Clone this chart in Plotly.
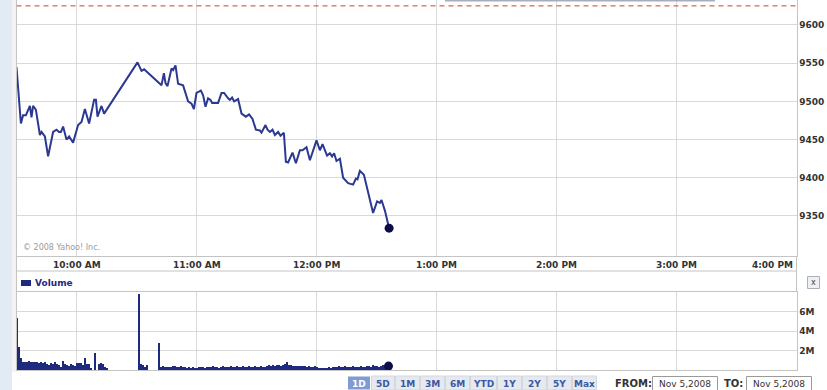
import plotly.graph_objects as go
import pandas as pd

W, H = 827, 390

# ---------------- data ----------------
price_minutes = [0, 2.2, 3.3, 4.7, 6.7, 7.5, 8.3, 9.7, 11.7, 12.5, 14.2, 15.8, 18.3, 20, 21.3, 22.2,
                 23.3, 25, 26.3, 28.3, 30.8, 32.5, 34.2, 36.3, 38.8, 39.7, 40.5, 42.5, 43.8,
                 60.5, 62.5, 63.8, 72.5, 73.7, 74.5, 75.5, 77.5, 78.3, 79.5, 80.8, 83.3, 85.8,
                 87.5, 88.7, 90, 92.2, 93.3, 94.5, 95.8, 97, 97.8, 100.8, 102.5, 103.8, 105.8,
                 106.7, 107.8, 108.8, 110.8, 112.5, 114.7, 116.3, 118, 119.7, 121.7, 122.5, 124.5,
                 125.5, 126.7, 128, 129.2, 130.8, 132, 133.7, 134.7, 135.8, 138, 139.7, 141.7, 143,
                 145, 146.7, 150, 151.7, 153, 155.3, 156.7, 157.8, 158.8, 160, 161.7, 163.3, 165.8,
                 168.3, 169.7, 170.5, 171.7, 173.7, 178.3, 180.3, 181.7, 182.5, 184.2, 186.3]
price_values = [9545, 9471, 9482, 9482, 9494, 9479, 9494, 9489, 9456, 9460, 9454, 9428, 9460, 9463,
                9460, 9460, 9467, 9450, 9454, 9446, 9469, 9473, 9490, 9471, 9502, 9502, 9480, 9494,
                9484, 9551, 9540, 9542, 9521, 9537, 9524, 9520, 9543, 9541, 9547, 9523, 9521, 9500,
                9497, 9490, 9511, 9514, 9508, 9493, 9504, 9502, 9498, 9498, 9511, 9511, 9504, 9502,
                9505, 9500, 9503, 9484, 9480, 9483, 9477, 9463, 9462, 9459, 9469, 9463, 9460, 9463,
                9456, 9460, 9455, 9459, 9421, 9420, 9433, 9419, 9436, 9436, 9440, 9423, 9449, 9436,
                9444, 9429, 9432, 9428, 9432, 9422, 9425, 9400, 9393, 9391, 9399, 9398, 9409, 9404,
                9354, 9369, 9367, 9371, 9357, 9334]
prev_close = 9625

# volume in millions, one bar per minute
vol_minutes_a = list(range(0, 46))
vol_values_a = [5.3, 2.4, 1.2, 0.85, 0.79, 0.85, 0.92, 0.85, 0.79, 0.85, 0.79, 0.68, 0.79, 0.68,
                0.85, 0.62, 0.51, 0.68, 0.62, 0.79, 0.65, 0.51, 0.34, 0.92, 0.62, 0.51, 0.45, 0.58,
                0.51, 0.45, 0.75, 0.68, 0.75, 0.51, 1.27, 0.62, 0.62, 0.17, 0.0, 1.78, 0.0, 0.62,
                0.75, 0.62, 0.34, 0.17]
vol_minutes_b = list(range(61, 187))
vol_values_b = [7.8, 0.6, 0.55, 0.3, 0.5, 0, 0, 0, 0, 0, 2.8,
                0.35, 0.45, 0.3, 0.35, 0.3, 0.3, 0.45, 0.4, 0.35, 0.3, 0.45, 0.35, 0.3, 0.25, 0.3, 0.2, 0.3, 0.25,
                0.25, 0.3, 0.35, 0.3, 0.25, 0.35, 0.3, 0.3, 0.4, 0.3, 0.35, 0.25, 0.3, 0.4, 0.3, 0.35, 0.3, 0.4, 0.3, 0.35,
                0.4, 0.3, 0.35, 0.4, 0.3, 0.35, 0.45, 0.3, 0.35, 0.4, 0.3, 0.35, 0.45, 0.35, 0.3, 0.45, 0.5, 0.4, 0.5, 0.45,
                0.55, 0.5, 0.45, 0.5, 0.6, 0.8, 0.55, 0.5, 0.45, 0.4, 0.45, 0.4, 0.45, 0.4, 0.45, 0.35, 0.4, 0.3, 0.35, 0.4,
                0.3, 0.25, 0.2, 0.2, 0.25, 0.2, 0.3, 0.25, 0.3, 0.35, 0.3, 0.45, 0.35, 0.3, 0.4, 0.3, 0.35, 0.3, 0.4, 0.35,
                0.3, 0.35, 0.4, 0.3, 0.35, 0.45, 0.4, 0.35, 0.5, 0.45, 0.4, 0.35, 0.45, 0.5, 0.4, 0.45, 0.4]

hour_ticks = ["10:00", "11:00", "12:00", "13:00", "14:00", "15:00", "16:00"]
hour_labels = ["10:00 AM", "11:00 AM", "12:00 PM", "1:00 PM", "2:00 PM", "3:00 PM", "4:00 PM"]
price_ticks = [9350, 9400, 9450, 9500, 9550, 9600]
vol_ticks = [2, 4, 6]
vol_tick_labels = ["2M", "4M", "6M"]
range_buttons = ["1D", "5D", "1M", "3M", "6M", "YTD", "1Y", "2Y", "5Y", "Max"]
date_from = "Nov 5,2008"
date_to = "Nov 5,2008"

# ---------------- helpers ----------------
DAY = "2008-11-05 "
base = pd.Timestamp(DAY + "09:30")


def t(m):
    return (base + pd.Timedelta(minutes=m)).strftime("%Y-%m-%d %H:%M:%S")


def px(x):
    return x / W


def py(y):
    return 1 - y / H


price_t = [t(m) for m in price_minutes]
vol_t = [t(m) for m in vol_minutes_a + vol_minutes_b]
vol_v = vol_values_a + vol_values_b

GRID = "#d9d9d9"
BORDER = "#c4c4c4"
LINE = "#2b3990"
NAVY = "#1f2a7e"
FONT = "DejaVu Sans"

x0, x1 = 16.5, 796.5
X_RANGE = [DAY + "09:30", DAY + "16:00"]

fig = go.Figure()
fig.add_trace(go.Scatter(x=price_t, y=price_values, mode="lines",
                         line=dict(color=LINE, width=2), xaxis="x", yaxis="y",
                         hoverinfo="skip"))
fig.add_trace(go.Scatter(x=[price_t[-1]], y=[price_values[-1]], mode="markers",
                         marker=dict(color="#0c0c48", size=9), xaxis="x", yaxis="y"))
fig.add_trace(go.Bar(x=vol_t, y=vol_v, marker=dict(color=NAVY, line=dict(width=0)),
                     width=27000, xaxis="x2", yaxis="y2"))
fig.add_trace(go.Scatter(x=[vol_t[-1]], y=[vol_v[-1]], mode="markers",
                         marker=dict(color="#0c0c48", size=9), xaxis="x2", yaxis="y2"))

common_x = dict(type="date", range=X_RANGE, domain=[px(x0), px(x1)],
                tickvals=[DAY + h for h in hour_ticks], showticklabels=False,
                showgrid=True, gridcolor=GRID, gridwidth=1, zeroline=False,
                showline=True, linecolor=BORDER, mirror=True, ticks="")
tickfont = dict(family=FONT, size=9, color="#333333", weight="bold")

fig.update_layout(
    width=W, height=H, autosize=False,
    margin=dict(l=0, r=0, t=0, b=0),
    paper_bgcolor="white", plot_bgcolor="white",
    showlegend=False, bargap=0,
    xaxis=dict(anchor="y", **common_x),
    yaxis=dict(domain=[py(256), py(0)], range=[9297.6, 9632.7], side="right",
               tickvals=price_ticks, tickfont=tickfont, showgrid=True, gridcolor=GRID,
               zeroline=False, showline=True, linecolor=BORDER, mirror=True, ticks=""),
    xaxis2=dict(anchor="y2", matches="x", **common_x),
    yaxis2=dict(domain=[py(370), py(292)], range=[0, 8], side="right",
                tickvals=vol_ticks, ticktext=vol_tick_labels, tickfont=tickfont,
                showgrid=True, gridcolor=GRID, zeroline=False, showline=True,
                linecolor=BORDER, mirror=True, ticks=""),
)

shapes = []
annotations = []

# left light strip
shapes.append(dict(type="rect", xref="paper", yref="paper", x0=0, x1=px(12), y0=0, y1=1,
                   fillcolor="#e2eaf6", line=dict(width=0), layer="below"))
shapes.append(dict(type="rect", xref="paper", yref="paper", x0=px(12), x1=px(16), y0=py(372), y1=1,
                   fillcolor="#f3f3f3", line=dict(width=0), layer="below"))
# top gray scroller line
shapes.append(dict(type="rect", xref="paper", yref="paper", x0=px(445), x1=px(715), y0=py(1.5), y1=1,
                   fillcolor="#a7adba", line=dict(width=0)))
# previous close dashed line
shapes.append(dict(type="line", xref="x", yref="y", x0=X_RANGE[0], x1=X_RANGE[1],
                   y0=prev_close, y1=prev_close,
                   line=dict(color="#c8461e", width=1, dash="5px,4px")))
# label band and legend band borders
for yy in (271,):
    shapes.append(dict(type="line", xref="paper", yref="paper", x0=px(x0), x1=px(x1),
                       y0=py(yy), y1=py(yy), line=dict(color=BORDER, width=1)))
for xx in (x0, x1):
    shapes.append(dict(type="line", xref="paper", yref="paper", x0=px(xx), x1=px(xx),
                       y0=py(292), y1=py(256), line=dict(color=BORDER, width=1)))

# x labels
for tv, lab in zip(hour_ticks, hour_labels):
    last = tv == hour_ticks[-1]
    annotations.append(dict(x=DAY + tv, y=py(264.5), xref="x", yref="paper", text=lab,
                            showarrow=False, xanchor="right" if last else "center",
                            yanchor="middle", xshift=-2 if last else 0,
                            font=dict(family=FONT, size=9, color="#333333", weight="bold")))

# copyright
annotations.append(dict(x=px(21), y=py(247), xref="paper", yref="paper",
                        text="© 2008 Yahoo! Inc.", showarrow=False, xanchor="left",
                        yanchor="middle", font=dict(family=FONT, size=8, color="#9a9a9a")))

# volume legend
shapes.append(dict(type="rect", xref="paper", yref="paper", x0=px(21), x1=px(31),
                   y0=py(286), y1=py(280), fillcolor=NAVY, line=dict(width=0)))
annotations.append(dict(x=px(33), y=py(283), xref="paper", yref="paper", text="Volume",
                        showarrow=False, xanchor="left", yanchor="middle",
                        font=dict(family=FONT, size=9, color=NAVY, weight="bold")))

# close button
shapes.append(dict(type="rect", xref="paper", yref="paper", x0=px(807.5), x1=px(819.5),
                   y0=py(288.5), y1=py(276.5), fillcolor="#eef0f3",
                   line=dict(color="#a9b0ba", width=1)))
annotations.append(dict(x=px(813.5), y=py(282.5), xref="paper", yref="paper", text="x",
                        showarrow=False, xanchor="center", yanchor="middle",
                        font=dict(family=FONT, size=8, color="#444444")))

# range buttons
edges = [347, 371, 395, 420, 445, 470, 497, 522, 547, 572, 597]
for i, lab in enumerate(range_buttons):
    sel = i == 0
    shapes.append(dict(type="rect", xref="paper", yref="paper", x0=px(edges[i] + 0.5),
                       x1=px(edges[i + 1] - 0.5), y0=py(390), y1=py(376),
                       fillcolor="#7f9bd2" if sel else "#e6e9ee",
                       line=dict(color="#ffffff" if sel else "#d3d7de", width=1)))
    annotations.append(dict(x=px((edges[i] + edges[i + 1]) / 2), y=py(383.5), xref="paper",
                            yref="paper", text=lab, showarrow=False, xanchor="center",
                            yanchor="middle",
                            font=dict(family=FONT, size=9, weight="bold",
                                      color="#ffffff" if sel else "#3a58a6")))

# from / to
annotations.append(dict(x=px(613), y=py(383), xref="paper", yref="paper", text="FROM:",
                        showarrow=False, xanchor="left", yanchor="middle",
                        font=dict(family=FONT, size=10, weight="bold", color="#333333")))
annotations.append(dict(x=px(722), y=py(383), xref="paper", yref="paper", text="TO:",
                        showarrow=False, xanchor="left", yanchor="middle",
                        font=dict(family=FONT, size=10, weight="bold", color="#333333")))
for bx0, bx1, txt in ((652.5, 717.5, date_from), (746.5, 811.5, date_to)):
    shapes.append(dict(type="rect", xref="paper", yref="paper", x0=px(bx0), x1=px(bx1),
                       y0=py(391), y1=py(376.5), fillcolor="white",
                       line=dict(color="#9a9a9a", width=1)))
    annotations.append(dict(x=px((bx0 + bx1) / 2), y=py(384), xref="paper", yref="paper",
                            text=txt, showarrow=False, xanchor="center", yanchor="middle",
                            font=dict(family=FONT, size=9, color="#333333")))

fig.update_layout(shapes=shapes, annotations=annotations)
fig.write_html("out.html")
